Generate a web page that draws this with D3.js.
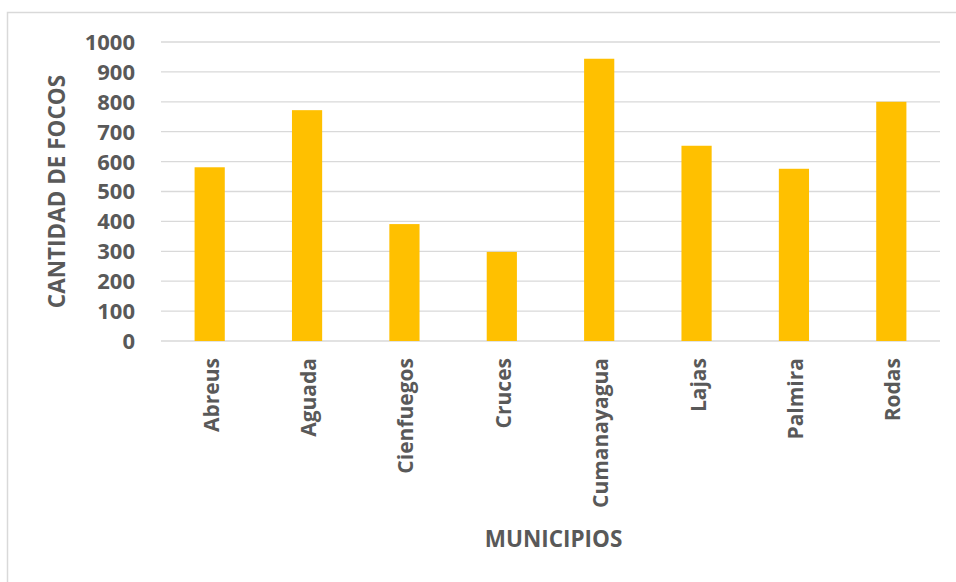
<!DOCTYPE html>
<html>
<head>
<meta charset="utf-8">
<script src="https://cdn.jsdelivr.net/npm/d3@7"></script>
<style>
  body { margin: 0; background: #fff; }
  svg text { font-family: "Open Sans", sans-serif; font-weight: bold; fill: #595959; }
</style>
</head>
<body>
<div id="chart"></div>
<script>
const municipios = ["Abreus", "Aguada", "Cienfuegos", "Cruces", "Cumanayagua", "Lajas", "Palmira", "Rodas"];
const focos = [581, 772, 391, 298, 944, 653, 576, 800];
const y_ticks = [0, 100, 200, 300, 400, 500, 600, 700, 800, 900, 1000];

const W = 956, H = 582;
const plot = { left: 161, right: 940, top: 42, bottom: 341 };

const data = municipios.map((m, i) => ({ name: m, value: focos[i] }));

const svg = d3.select("#chart").append("svg")
  .attr("width", W)
  .attr("height", H);

// outer chart border (right and bottom run off the picture)
svg.append("rect")
  .attr("x", 7.5).attr("y", 12.5)
  .attr("width", W + 20).attr("height", H + 20)
  .attr("fill", "none")
  .attr("stroke", "#d9d9d9")
  .attr("stroke-width", 1.5);

const x = d3.scaleBand()
  .domain(municipios)
  .range([plot.left, plot.right])
  .paddingInner(0.69)
  .paddingOuter(0.345);

const y = d3.scaleLinear()
  .domain([0, 1000])
  .range([plot.bottom, plot.top]);

// gridlines
svg.append("g")
  .selectAll("line")
  .data(y_ticks)
  .join("line")
    .attr("x1", plot.left).attr("x2", plot.right)
    .attr("y1", d => y(d)).attr("y2", d => y(d))
    .attr("stroke", "#d9d9d9")
    .attr("stroke-width", 1.3);

// y tick labels
svg.append("g")
  .selectAll("text")
  .data(y_ticks)
  .join("text")
    .attr("x", 135)
    .attr("y", d => y(d))
    .attr("dy", "0.36em")
    .attr("text-anchor", "end")
    .style("font-size", "22px")
    .text(d => d);

// bars
svg.append("g")
  .selectAll("rect")
  .data(data)
  .join("rect")
    .attr("x", d => x(d.name))
    .attr("y", d => y(d.value))
    .attr("width", x.bandwidth())
    .attr("height", d => y(0) - y(d.value))
    .attr("fill", "#ffc000");

// category labels, rotated
svg.append("g")
  .selectAll("text")
  .data(municipios)
  .join("text")
    .attr("transform", d => `translate(${x(d) + x.bandwidth() / 2 + 9},358) rotate(-90)`)
    .attr("text-anchor", "end")
    .style("font-size", "21px")
    .text(d => d);

// axis titles
svg.append("text")
  .attr("x", (plot.left + plot.right) / 2 + 3)
  .attr("y", 547)
  .attr("text-anchor", "middle")
  .style("font-size", "22.5px")
  .text("MUNICIPIOS");

svg.append("text")
  .attr("transform", `translate(65,${(plot.top + plot.bottom) / 2}) rotate(-90)`)
  .attr("text-anchor", "middle")
  .style("font-size", "22.5px")
  .text("CANTIDAD DE FOCOS");
</script>
</body>
</html>
